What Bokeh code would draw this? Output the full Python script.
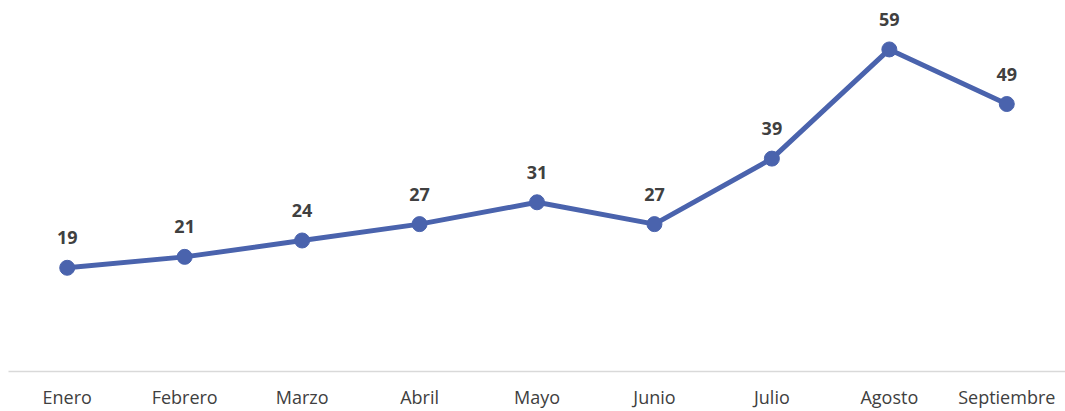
from bokeh.plotting import figure
from bokeh.models import ColumnDataSource, Range1d
from bokeh.core.properties import value
from bokeh.embed import file_html
from bokeh.resources import INLINE

months = ["Enero", "Febrero", "Marzo", "Abril", "Mayo", "Junio", "Julio", "Agosto", "Septiembre"]
counts = [19, 21, 24, 27, 31, 27, 39, 59, 49]

src = ColumnDataSource(dict(x=months, y=counts, lbl=[str(v) for v in counts]))

p = figure(x_range=months, y_range=Range1d(0, 66.5),
           width=1065, height=411, output_backend="svg", toolbar_location=None,
           min_border_left=8, min_border_right=0, min_border_top=8, min_border_bottom=0,
           y_axis_location=None)
p.outline_line_color = None
p.xgrid.visible = False
p.ygrid.visible = False
p.background_fill_color = "white"
p.border_fill_color = "white"

LINE = "#4A63AD"
p.line("x", "y", source=src, line_color=LINE, line_width=5)
p.scatter("x", "y", source=src, size=15, fill_color=LINE, line_color=LINE)
p.text("x", "y", text="lbl", source=src, y_offset=-30, text_align="center",
       text_baseline="middle", text_font=value("Open Sans"), text_font_style="bold",
       text_font_size="18px", text_color="#404040")

ax = p.xaxis[0]
ax.axis_line_color = "#d9d9d9"
ax.axis_line_width = 1.5
ax.major_tick_line_color = None
ax.minor_tick_line_color = None
ax.major_tick_out = 0
ax.major_tick_in = 0
ax.major_label_standoff = 13
ax.major_label_text_font = "Open Sans"
ax.major_label_text_font_size = "18px"
ax.major_label_text_color = "#404040"

open("out.html", "w").write(file_html(p, INLINE))
